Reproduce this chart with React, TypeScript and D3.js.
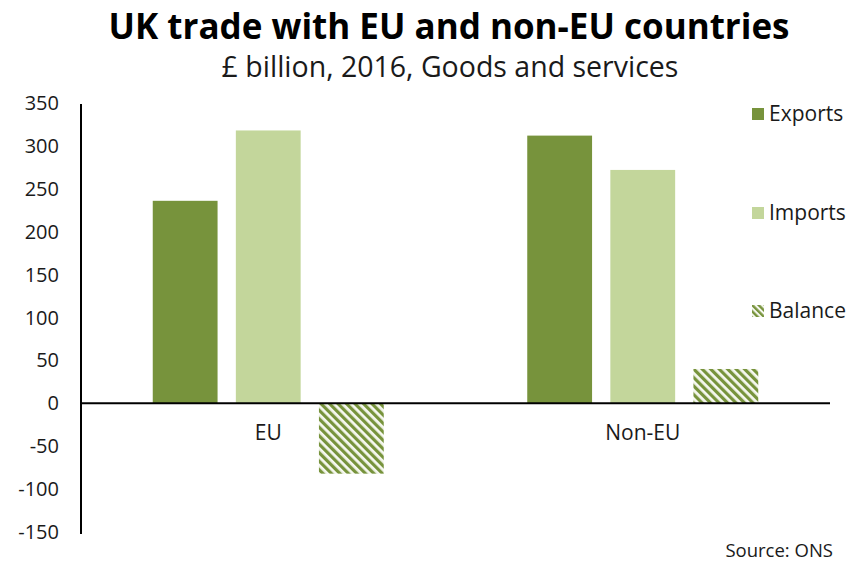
import React from "react";
import * as d3 from "d3";

const categories = ["EU", "Non-EU"];
const seriesNames = ["Exports", "Imports", "Balance"];
const exportsVals = [236, 312];
const importsVals = [318, 272];
const balanceVals = [-82, 40];
const yTicks = [350, 300, 250, 200, 150, 100, 50, 0, -50, -100, -150];

const W = 849;
const H = 564;
const FONT = "'Open Sans', 'Noto Sans', sans-serif";
const C_EXP = "#77933C";
const C_IMP = "#C3D69B";
const C_TXT = "#1a1a1a";

export default function App() {
  const y = d3.scaleLinear().domain([-150, 350]).range([532, 103]);
  const x0 = d3.scaleBand<string>().domain(categories).range([81, 830]).paddingInner(0).paddingOuter(0);
  const x1 = d3.scaleBand<string>().domain(seriesNames).range([-115.5, 115.5]).paddingInner(0.22).paddingOuter(0);
  const seriesVals = [exportsVals, importsVals, balanceVals];
  const fills = [C_EXP, C_IMP, "url(#hatch)"];

  const legendY = [114, 213, 311];

  return (
    <div style={{ position: "absolute", left: 0, top: 0 }}>
      <svg width={W} height={H} style={{ display: "block", background: "#fff" }}>
        <defs>
          <pattern id="hatch" patternUnits="userSpaceOnUse" width="6" height="6" patternTransform="rotate(-45)">
            <rect width="6" height="6" fill="#f6f8f0" />
            <rect width="3.2" height="6" fill={C_EXP} />
          </pattern>
          <pattern id="hatchSmall" patternUnits="userSpaceOnUse" width="4.5" height="4.5" patternTransform="rotate(-45)">
            <rect width="4.5" height="4.5" fill="#f6f8f0" />
            <rect width="2.4" height="4.5" fill={C_EXP} />
          </pattern>
        </defs>
        <text x={449} y={39} textAnchor="middle" fontFamily={FONT} fontWeight="bold" fontSize={35} fill="#000">
          UK trade with EU and non-EU countries
        </text>
        <text x={450} y={77} textAnchor="middle" fontFamily={FONT} fontSize={28.5} fill={C_TXT}>
          £ billion, 2016, Goods and services
        </text>

        {yTicks.map((t) => (
          <text key={t} x={59} y={y(t)} dy="0.35em" textAnchor="end" fontFamily={FONT} fontSize={20} fill={C_TXT}>
            {t}
          </text>
        ))}

        {categories.map((c, ci) =>
          seriesNames.map((s, si) => {
            const v = seriesVals[si][ci];
            const cx = (x0(c) as number) + x0.bandwidth() / 2;
            const bx = cx + (x1(s) as number);
            return (
              <rect
                key={c + s}
                x={bx}
                y={Math.min(y(v), y(0))}
                width={x1.bandwidth()}
                height={Math.abs(y(v) - y(0))}
                fill={fills[si]}
              />
            );
          })
        )}

        <line x1={81} x2={81} y1={104} y2={534} stroke="#000" strokeWidth={2} />
        <line x1={81} x2={830} y1={y(0)} y2={y(0)} stroke="#000" strokeWidth={2} />

        {categories.map((c) => (
          <text
            key={c}
            x={(x0(c) as number) + x0.bandwidth() / 2}
            y={440}
            textAnchor="middle"
            fontFamily={FONT}
            fontSize={21}
            fill={C_TXT}
          >
            {c}
          </text>
        ))}

        {seriesNames.map((s, i) => (
          <g key={s}>
            <rect x={752} y={legendY[i] - 6} width={12} height={12} fill={i === 2 ? "url(#hatchSmall)" : fills[i]} />
            <text x={769} y={legendY[i]} dy="0.35em" fontFamily={FONT} fontSize={21} fill={C_TXT}>
              {s}
            </text>
          </g>
        ))}

        <text x={833} y={557} textAnchor="end" fontFamily={FONT} fontSize={18.5} fill={C_TXT}>
          Source: ONS
        </text>
      </svg>
    </div>
  );
}
